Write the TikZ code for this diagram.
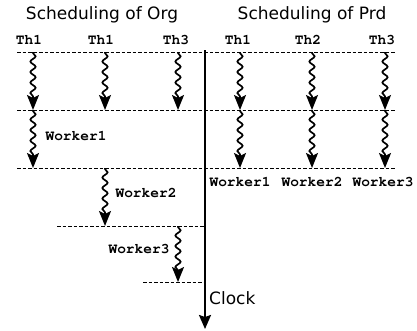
\documentclass[tikz,border=0pt]{standalone}
\usepackage[T1]{fontenc}
\usepackage{fontspec}
\setmainfont{DejaVu Sans}
\newcommand{\courb}{\fontencoding{T1}\fontfamily{pcr}\fontseries{b}\selectfont}
\usetikzlibrary{decorations.pathmorphing,arrows.meta}
\begin{document}
\begin{tikzpicture}[x=1pt,y=-1pt,
  titlelab/.style={font=\fontsize{17}{20}\selectfont, inner sep=0pt},
  monolab/.style={font=\courb\fontsize{14.5}{16}\selectfont, inner sep=0pt},
  sep/.style={line width=0.8pt, dash pattern=on 3.5pt off 2pt},
  wave/.style={line width=1.7pt, decorate,
    decoration={snake, amplitude=2.6pt, segment length=10.5pt, pre length=1pt, post length=10pt},
    -{Stealth[length=15pt,width=12pt,inset=3pt]}},
  clockline/.style={line width=2pt, -{Stealth[length=14pt,width=12pt,inset=2pt]}}]
\useasboundingbox (0,0) rectangle (417,330);

% titles
\node[titlelab] (torg) at (102,15) {Scheduling of Org};
\node[titlelab] (tprd) at (312,15) {Scheduling of Prd};

% thread labels
\node[monolab] (lth1) at (29,40) {Th1};
\node[monolab] (lth2) at (101,40) {Th1};
\node[monolab] (lth3) at (176,40) {Th3};
\node[monolab] (rth1) at (238,40) {Th1};
\node[monolab] (rth2) at (308,40) {Th2};
\node[monolab] (rth3) at (382,40) {Th3};

% dashed separators
\coordinate (d1a) at (17,52);  \coordinate (d1b) at (396,52);
\coordinate (d2a) at (17,110); \coordinate (d2b) at (396,110);
\coordinate (d3a) at (17,168); \coordinate (d3b) at (396,168);
\coordinate (d4a) at (57,226); \coordinate (d4b) at (205,226);
\coordinate (d5a) at (143,282); \coordinate (d5b) at (205,282);
\draw[sep] (d1a) -- (d1b);
\draw[sep] (d2a) -- (d2b);
\draw[sep] (d3a) -- (d3b);
\draw[sep] (d4a) -- (d4b);
\draw[sep] (d5a) -- (d5b);

% clock
\coordinate (ctop) at (205,50);
\coordinate (cbot) at (205,329);
\draw[clockline] (ctop) -- (cbot);
\node[anchor=west, font=\fontsize{17}{20}\selectfont, inner sep=0pt] (clk) at (209,298) {Clock};

% left waves
\coordinate (l1s) at (33,52);  \coordinate (l1e) at (33,110);
\coordinate (l2s) at (105,52); \coordinate (l2e) at (105,110);
\coordinate (l3s) at (178,52); \coordinate (l3e) at (178,110);
\coordinate (l4s) at (33,110); \coordinate (l4e) at (33,168);
\coordinate (l5s) at (105,168); \coordinate (l5e) at (105,226);
\coordinate (l6s) at (178,226); \coordinate (l6e) at (178,282);
\draw[wave] (l1s) -- (l1e);
\draw[wave] (l2s) -- (l2e);
\draw[wave] (l3s) -- (l3e);
\draw[wave] (l4s) -- (l4e);
\draw[wave] (l5s) -- (l5e);
\draw[wave] (l6s) -- (l6e);

% right waves
\coordinate (r1s) at (240,52);  \coordinate (r1m) at (240,110); \coordinate (r1e) at (240,168);
\coordinate (r2s) at (312,52);  \coordinate (r2m) at (312,110); \coordinate (r2e) at (312,168);
\coordinate (r3s) at (385,52);  \coordinate (r3m) at (385,110); \coordinate (r3e) at (385,168);
\draw[wave] (r1s) -- (r1m);
\draw[wave] (r1m) -- (r1e);
\draw[wave] (r2s) -- (r2m);
\draw[wave] (r2m) -- (r2e);
\draw[wave] (r3s) -- (r3m);
\draw[wave] (r3m) -- (r3e);

% worker labels
\node[monolab] (lw1) at (76,136) {Worker1};
\node[monolab] (lw2) at (146,193) {Worker2};
\node[monolab] (lw3) at (139,249) {Worker3};
\node[monolab] (rw1) at (240,182) {Worker1};
\node[monolab] (rw2) at (312,182) {Worker2};
\node[monolab] (rw3) at (383,182) {Worker3};
\end{tikzpicture}
\end{document}
